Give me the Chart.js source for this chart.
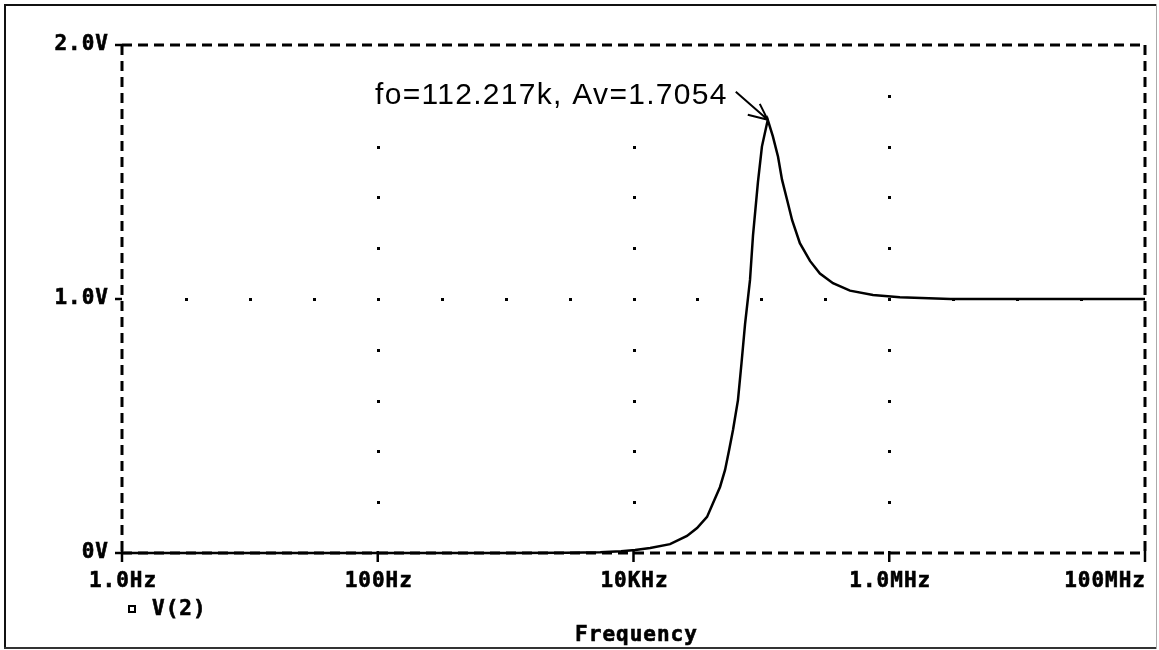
<!DOCTYPE html>
<html><head><meta charset="utf-8">
<script src="https://cdn.jsdelivr.net/npm/chart.js@4.4.0/dist/chart.umd.min.js"></script>
<style>html,body{margin:0;padding:0;background:#fff;overflow:hidden}canvas{display:block}</style>
</head><body><canvas id="c" width="1159" height="650"></canvas>
<script>
// ---- data ----
const freqHz = [1, 10, 100, 1000, 3000, 5500, 6000, 8000,
  10300, 13500, 19300, 26200, 31400, 37600, 41900, 47500, 52000, 55900,
  60000, 65600, 70000, 74500, 81500, 86000, 94000, 101000, 112217,
  123000, 135000, 145000, 159000, 174000, 200000, 240000, 287000, 363000, 493000,
  746000, 1210000, 3000000, 1e7, 1e8];
const vOut = [0, 0, 0, 0, 0.001, 0.003, 0.004, 0.007,
  0.012, 0.02, 0.035, 0.067, 0.098, 0.142, 0.197, 0.26, 0.327, 0.405,
  0.484, 0.602, 0.75, 0.90, 1.075, 1.25, 1.46, 1.60, 1.7054,
  1.64, 1.56, 1.47, 1.39, 1.31, 1.22, 1.15, 1.10, 1.062, 1.033,
  1.016, 1.007, 1.0, 1.0, 1.0];
const xTickValues = [1, 100, 1e4, 1e6, 1e8];
const xTickLabels = ['1.0Hz', '100Hz', '10KHz', '1.0MHz', '100MHz'];
const yTickValues = [0, 1, 2];
const yTickLabels = ['0V', '1.0V', '2.0V'];
const xGridValues = [100, 1e4, 1e6];          // dotted vertical lines
const yGridDotValues = [0.2, 0.4, 0.6, 0.8, 1.0, 1.2, 1.4, 1.6, 1.8];
const yGridLineValue = 1.0;                    // dotted horizontal line
const xGridDotExponents = [0.5, 1, 1.5, 2, 2.5, 3, 3.5, 4, 4.5, 5, 5.5, 6, 6.5, 7, 7.5];
const xAxisTitle = 'Frequency';
const legendLabel = 'V(2)';
const peakFreq = 112217, peakGain = 1.7054;
const annotationText = 'fo=112.217k, Av=1.7054';

const points = freqHz.map((f, i) => ({x: f, y: vOut[i]}));
const MONO = 'bold 21px "DejaVu Sans Mono", "Liberation Mono", monospace';

function boldText(ctx, s, x, y) {
  ctx.fillText(s, x, y);
  ctx.strokeText(s, x, y);
}

const pspicePlugin = {
  id: 'pspice',
  beforeDraw(chart) {
    const ctx = chart.ctx;
    ctx.save();
    ctx.fillStyle = '#fff';
    ctx.fillRect(0, 0, chart.width, chart.height);
    // outer border
    ctx.fillStyle = '#111';
    ctx.fillRect(4, 4, 2, 645);
    ctx.fillRect(4, 4, 1153, 2);
    ctx.fillStyle = '#333';
    ctx.fillRect(4, 647, 1153, 2);
    ctx.fillStyle = '#aaa';
    ctx.fillRect(1156, 4, 1, 645);
    ctx.restore();
  },
  beforeDatasetsDraw(chart) {
    const ctx = chart.ctx, a = chart.chartArea;
    const xs = chart.scales.x, ys = chart.scales.y;
    ctx.save();
    ctx.fillStyle = '#000';
    // dotted grid
    xGridValues.forEach(v => {
      const x = Math.round(xs.getPixelForValue(v));
      yGridDotValues.forEach(d => {
        const y = Math.round(ys.getPixelForValue(d));
        ctx.fillRect(x - 1, y - 1, 3, 3);
      });
    });
    const yl = Math.round(ys.getPixelForValue(yGridLineValue));
    xGridDotExponents.forEach(e => {
      const x = Math.round(xs.getPixelForValue(Math.pow(10, e)));
      ctx.fillRect(x - 1, yl - 1, 3, 3);
    });
    // dashed frame
    ctx.strokeStyle = '#000';
    ctx.lineWidth = 3;
    ctx.setLineDash([10, 6]);
    ctx.beginPath(); ctx.moveTo(a.left, a.top); ctx.lineTo(a.right, a.top); ctx.stroke();
    ctx.beginPath(); ctx.moveTo(a.left, a.top); ctx.lineTo(a.left, a.bottom); ctx.stroke();
    ctx.beginPath(); ctx.moveTo(a.right, a.top); ctx.lineTo(a.right, a.bottom); ctx.stroke();
    ctx.beginPath(); ctx.moveTo(a.left, a.bottom); ctx.lineTo(a.right, a.bottom); ctx.stroke();
    ctx.setLineDash([]);
    // ticks
    ctx.lineWidth = 2.5;
    yTickValues.forEach(v => {
      const y = ys.getPixelForValue(v);
      ctx.beginPath(); ctx.moveTo(a.left - 7, y); ctx.lineTo(a.left, y); ctx.stroke();
    });
    xTickValues.forEach(v => {
      const x = xs.getPixelForValue(v);
      ctx.beginPath(); ctx.moveTo(x, a.bottom - 2); ctx.lineTo(x, a.bottom + 9); ctx.stroke();
    });
    // tick labels
    ctx.font = MONO;
    ctx.letterSpacing = '1px';
    ctx.lineWidth = 0.6;
    ctx.textBaseline = 'middle';
    ctx.textAlign = 'right';
    yTickValues.forEach((v, i) => {
      boldText(ctx, yTickLabels[i], a.left - 13, ys.getPixelForValue(v));
    });
    xTickValues.forEach((v, i) => {
      const last = i === xTickValues.length - 1;
      ctx.textAlign = last ? 'right' : 'center';
      boldText(ctx, xTickLabels[i], xs.getPixelForValue(v) + (last ? 1 : 1), a.bottom + 29);
    });
    ctx.textAlign = 'center';
    boldText(ctx, xAxisTitle, (a.left + a.right) / 2 + 3, a.bottom + 83);
    // legend
    ctx.textAlign = 'left';
    boldText(ctx, legendLabel, a.left + 30, a.bottom + 57);
    ctx.lineWidth = 2;
    ctx.strokeRect(a.left + 7, a.bottom + 53, 6, 6);
    ctx.restore();
  },
  afterDatasetsDraw(chart) {
    const ctx = chart.ctx;
    const px = chart.scales.x.getPixelForValue(peakFreq);
    const py = chart.scales.y.getPixelForValue(peakGain);
    ctx.save();
    ctx.font = '30px "Liberation Sans", Arial, sans-serif';
    ctx.letterSpacing = '1.3px';
    ctx.textAlign = 'right';
    ctx.textBaseline = 'alphabetic';
    const tx = px - 40, ty = py - 16;
    const w = ctx.measureText(annotationText).width;
    ctx.fillStyle = '#fff';
    ctx.fillRect(tx - w - 4, ty - 26, w + 6, 34);
    ctx.fillStyle = '#000';
    ctx.fillText(annotationText, tx, ty);
    ctx.strokeStyle = '#000';
    ctx.lineWidth = 2;
    ctx.beginPath();
    ctx.moveTo(px - 32, py - 28); ctx.lineTo(px, py);
    ctx.moveTo(px - 20, py - 5); ctx.lineTo(px, py);
    ctx.moveTo(px - 8, py - 16); ctx.lineTo(px, py);
    ctx.stroke();
    ctx.restore();
  }
};

new Chart(document.getElementById('c'), {
  type: 'line',
  data: {
    datasets: [{
      label: legendLabel,
      data: points,
      borderColor: '#000',
      borderWidth: 2.5,
      pointRadius: 0,
      tension: 0,
      fill: false,
      clip: false
    }]
  },
  options: {
    responsive: false,
    animation: false,
    devicePixelRatio: 1,
    layout: {padding: {left: 122, right: 14, top: 45, bottom: 97}},
    plugins: {legend: {display: false}, tooltip: {enabled: false}},
    scales: {
      x: {type: 'logarithmic', min: 1, max: 1e8, display: false},
      y: {type: 'linear', min: 0, max: 2, display: false}
    }
  },
  plugins: [pspicePlugin]
});
</script>
</body></html>
